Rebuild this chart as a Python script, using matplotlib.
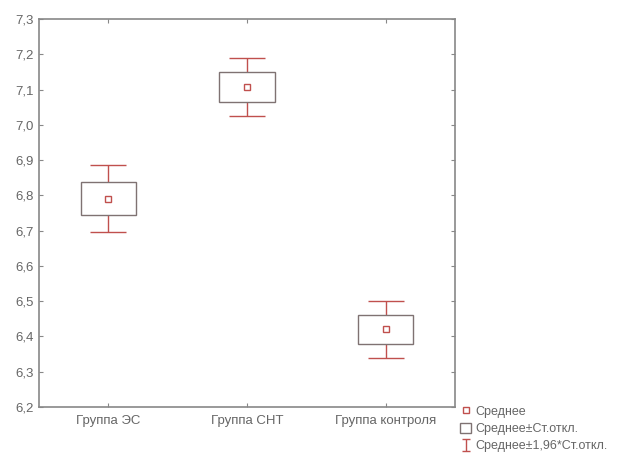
import matplotlib
matplotlib.use("Agg")
import matplotlib.pyplot as plt
import numpy as np
from matplotlib.ticker import FuncFormatter

plt.rcParams['font.family'] = ['Liberation Sans', 'DejaVu Sans']

groups = ['Группа ЭС', 'Группа СНТ', 'Группа контроля']
means = [6.79, 7.107, 6.42]
sds = [0.047, 0.043, 0.041]
ci = [0.095, 0.083, 0.08]   # 1.96*SD
legend_labels = ['Среднее', 'Среднее±Ст.откл.', 'Среднее±1,96*Ст.откл.']

red = '#c0504d'
gray = '#7f7272'
txt = '#666666'

fig = plt.figure(figsize=(6.31, 4.55), dpi=100)
ax = fig.add_axes([39/631, 1-407/455, (455-39)/631, (407-19)/455])

x = list(range(len(groups)))
ax.errorbar(x, means, yerr=ci, fmt='none', ecolor=red, elinewidth=1,
            capsize=13, capthick=1, zorder=1)
box = ax.bar(x, [2*s for s in sds], bottom=[m - s for m, s in zip(means, sds)],
             width=0.4, facecolor='white', edgecolor=gray, linewidth=1, zorder=2)
mk, = ax.plot(x, means, 's', ms=4, mfc='white', mec=red, mew=1, zorder=3)
# small proxy for the legend whisker symbol
eb_proxy = ax.errorbar([np.nan], [np.nan], yerr=[0.1], fmt='none', ecolor=red,
                       elinewidth=1, capsize=3, capthick=1)

ax.set_xlim(-0.5, 2.5)
ax.set_ylim(6.2, 7.3)
ax.set_xticks(x)
ax.set_xticklabels(groups)
ax.set_yticks([6.2 + 0.1*i for i in range(12)])
ax.yaxis.set_major_formatter(FuncFormatter(lambda v, p: f'{v:.1f}'.replace('.', ',')))
ax.tick_params(direction='in', length=3, color='#888888', labelcolor=txt,
               labelsize=9.5, right=True, top=True)
ax.tick_params(axis='x', pad=6)
for s in ax.spines.values():
    s.set_color('#888888')
    s.set_linewidth(1.2)

fig.legend([mk, box, eb_proxy], legend_labels, loc='upper left',
           bbox_to_anchor=(460/631, 1-405/455), frameon=False,
           fontsize=9, labelcolor=txt, handlelength=0.9, handleheight=0.9,
           handletextpad=0.3, labelspacing=0.4, borderpad=0, borderaxespad=0)

fig.savefig('out.png', dpi=100)
